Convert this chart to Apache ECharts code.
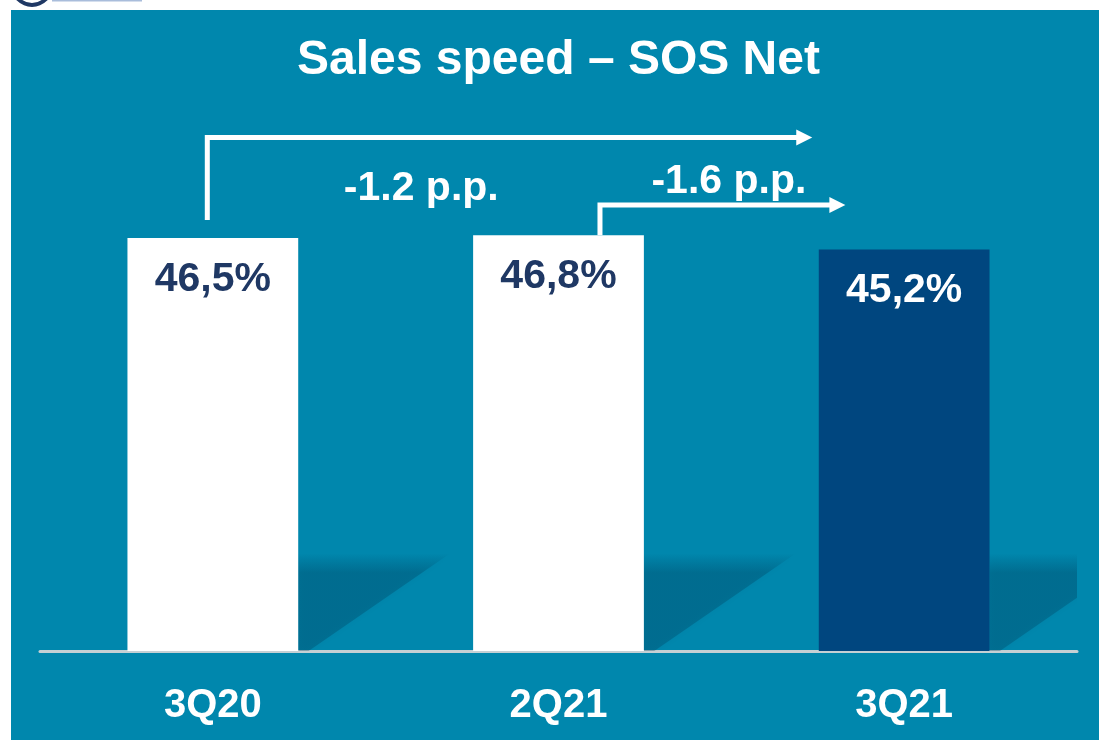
<!DOCTYPE html>
<html>
<head>
<meta charset="utf-8">
<script src="https://cdn.jsdelivr.net/npm/echarts@6/dist/echarts.min.js"></script>
<style>
  html, body { margin: 0; padding: 0; background: #fff; }
  #chart { width: 1099px; height: 740px; }
</style>
</head>
<body>
<div id="chart"></div>
<script>
var quarters = ['3Q20', '2Q21', '3Q21'];
var sosNet = [46.5, 46.8, 45.2];
var barLabels = ['46,5%', '46,8%', '45,2%'];
var deltaLabels = ['-1.2 p.p.', '-1.6 p.p.'];
var shadowTop = 11; // where the floor shadow starts (axis units)

var FONT = '"Liberation Sans", Arial, sans-serif';
var TEAL = '#0087ad';
var NAVY = '#1f3864';
var DARK = '#00467f';

var myChart = echarts.init(document.getElementById('chart'));

function drawChart(){
	option = {
		backgroundColor: '#fff',
		animation: false,
		grid: { left: 40, right: 22, top: 118, bottom: 89 },
		xAxis: {
			type: 'category',
			data: quarters,
			axisTick: { show: false },
			axisLine: {
				lineStyle: { color: '#c5d0d4', width: 3 }
			},
			axisLabel: {
				margin: 35,
				color: '#fff',
				fontFamily: FONT,
				fontWeight: 'bold',
				fontSize: 40,
				lineHeight: 40
			}
		},
		yAxis: {
			type: 'value',
			min: 0,
			max: 60,
			show: false,
			splitLine: { show: false }
		},
		series: [{
			// floor shadow behind each bar
			type: 'custom',
			z: 1,
			clip: true,
			silent: true,
			data: sosNet.map(function(v, i){ return [i, v]; }),
			renderItem: function(params, api){
				var base = api.coord([api.value(0), 0]);
				var band = api.size([1, 0])[0];
				var right = base[0] + band * 0.247;
				var topY = api.coord([api.value(0), shadowTop])[1];
				return {
					type: 'polygon',
					shape: {
						points: [[right, topY], [right + band * 0.44, topY], [right + band * 0.03, base[1]], [right, base[1]]]
					},
					style: {
						fill: new echarts.graphic.LinearGradient(0, 0, 0, 1, [
							{ offset: 0, color: 'rgba(0,60,90,0)' },
							{ offset: 0.2, color: 'rgba(0,60,90,0.3)' },
							{ offset: 1, color: 'rgba(0,60,90,0.3)' }
						]),
						shadowBlur: 6,
						shadowColor: 'rgba(0,60,90,0.25)'
					}
				};
			}
		}, {
			name: 'SOS Net',
			type: 'bar',
			z: 2,
			barWidth: '49.4%',
			data: sosNet.map(function(v, i){
				return {
					value: v,
					itemStyle: { color: i == 2 ? DARK : '#fff' },
					label: { color: i == 2 ? '#fff' : NAVY }
				};
			}),
			label: {
				show: true,
				position: 'insideTop',
				distance: 21,
				fontFamily: FONT,
				fontWeight: 'bold',
				fontSize: 41,
				lineHeight: 41,
				formatter: function(p){ return barLabels[p.dataIndex]; }
			}
		}]
	};
	myChart.setOption(option);
}

function drawArrows(){
	var c = quarters.map(function(q, i){ return myChart.convertToPixel({ xAxisIndex: 0 }, i); });
	var band = c[1] - c[0];
	function py(v){ return myChart.convertToPixel({ yAxisIndex: 0 }, v); }

	function arrow(x0, y0, yTop, xTip){
		return [{
			type: 'polyline',
			shape: { points: [[x0, y0], [x0, yTop], [xTip - 14, yTop]] },
			style: { stroke: '#fff', lineWidth: 5, fill: null, lineJoin: 'miter' },
			z: 10
		}, {
			type: 'polygon',
			shape: { points: [[xTip - 16, yTop - 8], [xTip, yTop], [xTip - 16, yTop + 8]] },
			style: { fill: '#fff' },
			z: 10
		}];
	}
	function txt(x, y, s, size){
		return {
			type: 'text', x: x, y: y, z: 10,
			style: {
				text: s, fill: '#fff', font: 'bold ' + size + 'px ' + FONT,
				align: 'center', verticalAlign: 'middle'
			}
		};
	}

	var els = [
		{ type: 'rect', z: -100, shape: { x: 11, y: 10, width: 1088, height: 730 }, style: { fill: TEAL } },
		{ type: 'circle', z: -90, shape: { cx: 32, cy: -14, r: 19 }, style: { fill: null, stroke: NAVY, lineWidth: 4 } },
		{ type: 'rect', z: -90, shape: { x: 52, y: 0, width: 90, height: 1.5 }, style: { fill: '#a9bddb' } },
		txt((c[0] + c[2]) / 2, 61, 'Sales speed \u2013 SOS Net', 48)
	];
	els = els.concat(arrow(c[0] - 0.016 * band, py(sosNet[0]) - 18, py(57.8), c[2] - 0.266 * band));
	els = els.concat(arrow(c[1] + 0.12 * band, py(sosNet[1]), py(50.2), c[2] - 0.17 * band));
	els.push(txt(c[0] + 0.603 * band, py(52.0), deltaLabels[0], 41));
	els.push(txt(c[1] + 0.493 * band, py(52.8), deltaLabels[1], 41));

	myChart.setOption({ graphic: { elements: els } });
}

drawChart();
drawArrows();
</script>
</body>
</html>
